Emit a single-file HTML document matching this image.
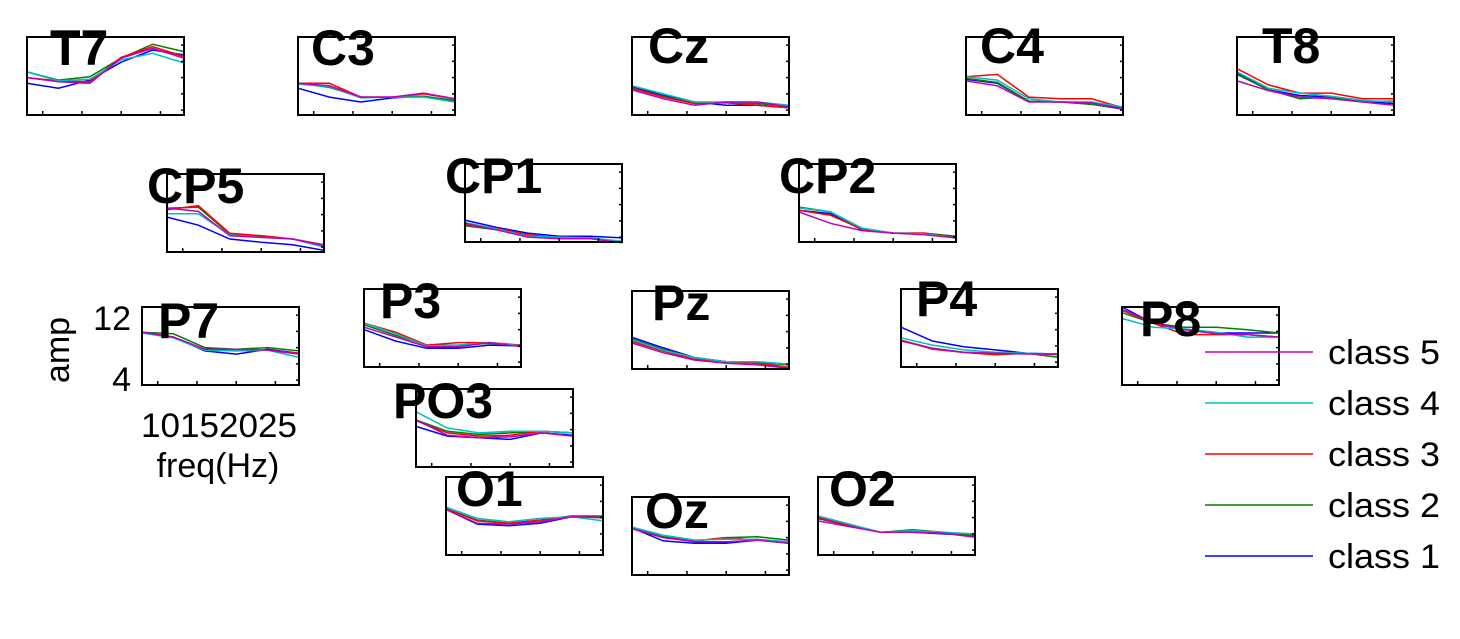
<!DOCTYPE html>
<html><head><meta charset="utf-8"><style>
html,body{margin:0;padding:0;background:#fff;}
svg{display:block;font-family:"Liberation Sans",Arial,sans-serif;}
</style></head><body>
<svg id="chart" width="1460" height="639" viewBox="0 0 1460 639" xmlns="http://www.w3.org/2000/svg">
<g id="panels"></g>
<g font-size="34" fill="#000">
<text x="131" y="330" text-anchor="end">12</text>
<text x="131" y="391" text-anchor="end">4</text>
<text transform="translate(69,350) rotate(-90)" text-anchor="middle">amp</text>
<text x="219" y="437" text-anchor="middle" textLength="156" lengthAdjust="spacingAndGlyphs">10152025</text>
<text x="218" y="477" text-anchor="middle">freq(Hz)</text>
</g>
<g id="legend"></g>
</svg>
<script>
const freqs = [8, 12, 16, 20, 24, 28];
const classNames = ["class 1", "class 2", "class 3", "class 4", "class 5"];
const classColors = ["#0000ff", "#008000", "#ff0000", "#00bfbf", "#bf00bf"];
const channels = ["T7","C3","Cz","C4","T8","CP5","CP1","CP2","P7","P3","Pz","P4","P8","PO3","O1","Oz","O2"];
const xTicks = [10, 15, 20, 25];
const yTicks = [4, 6, 8, 10, 12];
const T7 = [[7.3,6.7,7.7,9.9,11.4,10.8],[8.7,7.7,8.1,10.4,12.1,11.2],[8.0,7.6,7.5,10.5,11.8,10.6],[8.7,7.6,7.8,10.2,11.0,9.8],[8.0,7.5,7.3,10.4,11.6,10.4]];
const C3 = [[6.7,5.6,5.0,5.5,5.7,5.0],[7.3,6.8,5.6,5.6,5.7,5.2],[7.3,7.3,5.6,5.6,6.0,5.4],[7.2,6.9,5.5,5.6,5.6,5.0],[7.3,7.0,5.6,5.6,6.1,5.4]];
const Cz = [[6.9,5.8,5.0,4.6,4.6,4.3],[6.7,5.7,4.9,4.9,4.8,4.5],[6.7,5.6,4.8,4.9,4.6,4.3],[7.0,6.0,5.0,5.0,5.0,4.6],[6.5,5.4,4.6,5.0,5.0,4.4]];
const C4 = [[7.8,7.3,5.1,5.0,4.9,4.3],[7.9,7.4,5.1,5.0,4.7,4.1],[8.1,8.4,5.6,5.4,5.4,4.3],[8.1,7.7,5.4,5.0,5.0,4.4],[7.6,7.0,5.0,5.0,4.9,4.1]];
const T8 = [[8.6,6.5,5.8,5.6,5.1,4.8],[8.4,6.5,5.4,5.6,5.1,5.1],[9.1,7.1,6.1,6.1,5.4,5.4],[8.7,6.7,6.1,5.7,5.2,5.0],[7.6,6.4,5.6,5.4,5.0,4.6]];
const CP5 = [[7.7,6.7,5.0,4.6,4.3,3.6],[8.8,8.9,5.6,5.4,5.0,4.2],[8.6,9.1,5.7,5.4,5.0,4.3],[8.1,8.1,5.5,5.2,5.0,4.0],[8.8,8.4,5.4,5.2,5.0,4.2]];
const CP1 = [[6.1,5.2,4.5,4.1,4.1,3.9],[5.4,4.9,4.1,3.9,3.9,3.4],[5.5,5.1,4.3,3.9,3.9,3.4],[5.8,5.0,4.1,4.0,3.9,3.5],[5.7,4.9,4.0,3.8,3.8,3.3]];
const CP2 = [[7.3,6.9,4.9,4.5,4.4,3.9],[7.7,7.1,5.1,4.5,4.5,4.1],[7.3,6.7,5.0,4.5,4.5,3.9],[7.6,7.1,5.1,4.5,4.4,3.9],[7.1,5.7,4.8,4.5,4.3,3.9]];
const P7 = [[9.9,9.3,7.6,7.2,7.8,7.3],[9.9,9.7,8.0,7.8,8.0,7.6],[9.9,9.3,7.8,7.6,7.7,7.3],[9.8,9.2,7.7,7.6,7.7,6.8],[9.9,9.3,7.8,7.8,7.7,7.2]];
const P3 = [[8.0,6.6,5.7,5.7,6.1,6.0],[8.6,7.3,6.1,6.1,6.3,6.1],[8.8,7.7,6.1,6.4,6.4,6.1],[8.8,7.5,6.0,6.1,6.4,6.0],[8.3,7.1,5.9,5.9,6.4,5.9]];
const Pz = [[7.3,6.0,4.8,4.3,4.1,3.6],[7.1,5.8,4.8,4.3,4.2,3.9],[6.8,5.6,4.6,4.3,4.1,3.6],[7.0,5.7,4.8,4.3,4.3,4.0],[6.6,5.4,4.5,4.1,3.9,3.5]];
const P4 = [[8.3,6.6,5.9,5.5,5.1,5.0],[6.7,5.7,5.2,5.1,5.1,4.6],[6.7,5.6,5.2,4.9,5.1,4.9],[7.0,6.1,5.5,5.2,5.1,5.0],[6.6,5.7,5.2,5.1,5.0,5.0]];
const P8 = [[13.0,11.0,10.2,9.8,9.8,9.8],[12.3,11.0,10.5,10.5,10.2,9.8],[12.6,11.0,9.6,9.6,9.6,9.3],[11.6,10.5,10.3,9.9,9.3,9.3],[12.7,11.1,10.2,9.7,9.6,9.3]];
const PO3 = [[8.4,7.2,7.0,6.8,7.6,7.3],[9.2,7.8,7.4,7.6,7.8,7.6],[9.1,7.6,7.2,7.3,7.8,7.6],[10.2,8.2,7.6,7.8,7.8,7.6],[9.2,7.3,7.0,7.1,7.6,7.2]];
const O1 = [[9.0,7.2,7.0,7.3,8.1,8.0],[9.1,7.7,7.3,7.7,8.2,8.2],[9.1,7.6,7.3,7.7,8.2,8.0],[9.3,7.9,7.5,7.9,8.1,7.6],[9.0,7.3,7.2,7.5,8.1,8.0]];
const Oz = [[9.2,7.6,7.3,7.3,7.7,7.3],[9.2,8.1,7.6,8.0,8.1,7.7],[9.1,8.0,7.6,8.0,7.7,7.3],[9.3,8.3,7.7,7.8,7.8,7.5],[9.1,8.0,7.5,7.5,7.7,7.3]];
const O2 = [[7.9,7.0,6.2,6.2,6.0,5.8],[8.1,7.1,6.2,6.5,6.2,5.8],[8.0,7.0,6.2,6.2,6.1,5.6],[8.2,7.2,6.2,6.4,6.2,6.0],[7.6,6.9,6.2,6.2,6.1,5.6]];
const channelData = {T7,C3,Cz,C4,T8,CP5,CP1,CP2,P7,P3,Pz,P4,P8,PO3,O1,Oz,O2};

const layout = {
 T7:[27,37,50,65], C3:[298,37,311,65], Cz:[632,37,648,63], C4:[966,37,980,63], T8:[1237,37,1262,63],
 CP5:[167,174,147,203], CP1:[465,164,445,193], CP2:[799,164,779,193],
 P7:[142,307,158,338], P3:[364,289,380,318], Pz:[632,291,652,320], P4:[901,289,916,316], P8:[1122,307,1140,336],
 PO3:[416,389,393,418], O1:[446,477,456,506], Oz:[632,497,645,528], O2:[818,477,829,506]
};
const PW = 157, PH = 78, XMIN = 8, XMAX = 28, YMIN = 3.4, YMAX = 13;
const NS = "http://www.w3.org/2000/svg";
function mk(tag, attrs, parent){const e=document.createElementNS(NS,tag);for(const k in attrs)e.setAttribute(k,attrs[k]);parent.appendChild(e);return e;}
const panels = document.getElementById("panels");
channels.forEach(ch => {
  const [L,T,lx,ly] = layout[ch];
  const xs = f => L + (f - XMIN) / (XMAX - XMIN) * PW;
  const ys = v => T + (YMAX - v) / (YMAX - YMIN) * PH;
  const g = mk("g", {}, panels);
  
  
  channelData[ch].forEach((vals, ci) => {
    const pts = vals.map((v,i)=> xs(freqs[i]).toFixed(1)+","+ys(v).toFixed(1)).join(" ");
    const pl = mk("polyline", {points:pts, fill:"none", stroke:classColors[ci], "stroke-width":1.5}, g);
    
    
  });
  const box = mk("rect", {x:L, y:T, width:PW, height:PH, fill:"none", stroke:"#000", "stroke-width":2}, g);
  
  
  xTicks.forEach(t => {
    const tk = mk("line", {x1:xs(t), x2:xs(t), y1:T+PH, y2:T+PH-4, stroke:"#000", "stroke-width":1.5}, g);
    
    
  });
  yTicks.forEach(t => {
    const tk = mk("line", {x1:L+PW, x2:L+PW-3, y1:ys(t), y2:ys(t), stroke:"#000", "stroke-width":1.5}, g);
    
    
  });
  const lab = mk("text", {x:lx, y:ly, "font-size":50, "font-weight":"bold", fill:"#000"}, g);
  lab.textContent = ch;
  
  
});
const legend = document.getElementById("legend");
const legendY = [556, 505, 454, 403, 352];
for (let i = 4; i >= 0; i--) {
  const y = legendY[i];
  const ln = mk("line", {x1:1205, x2:1313, y1:y, y2:y, stroke:classColors[i], "stroke-width":1.5}, legend);
  
  
  const tx = mk("text", {x:1328, y:y+12, "font-size":34, fill:"#000", textLength:112, lengthAdjust:"spacingAndGlyphs"}, legend);
  tx.textContent = classNames[i];
  
  
}
</script>
</body></html>
